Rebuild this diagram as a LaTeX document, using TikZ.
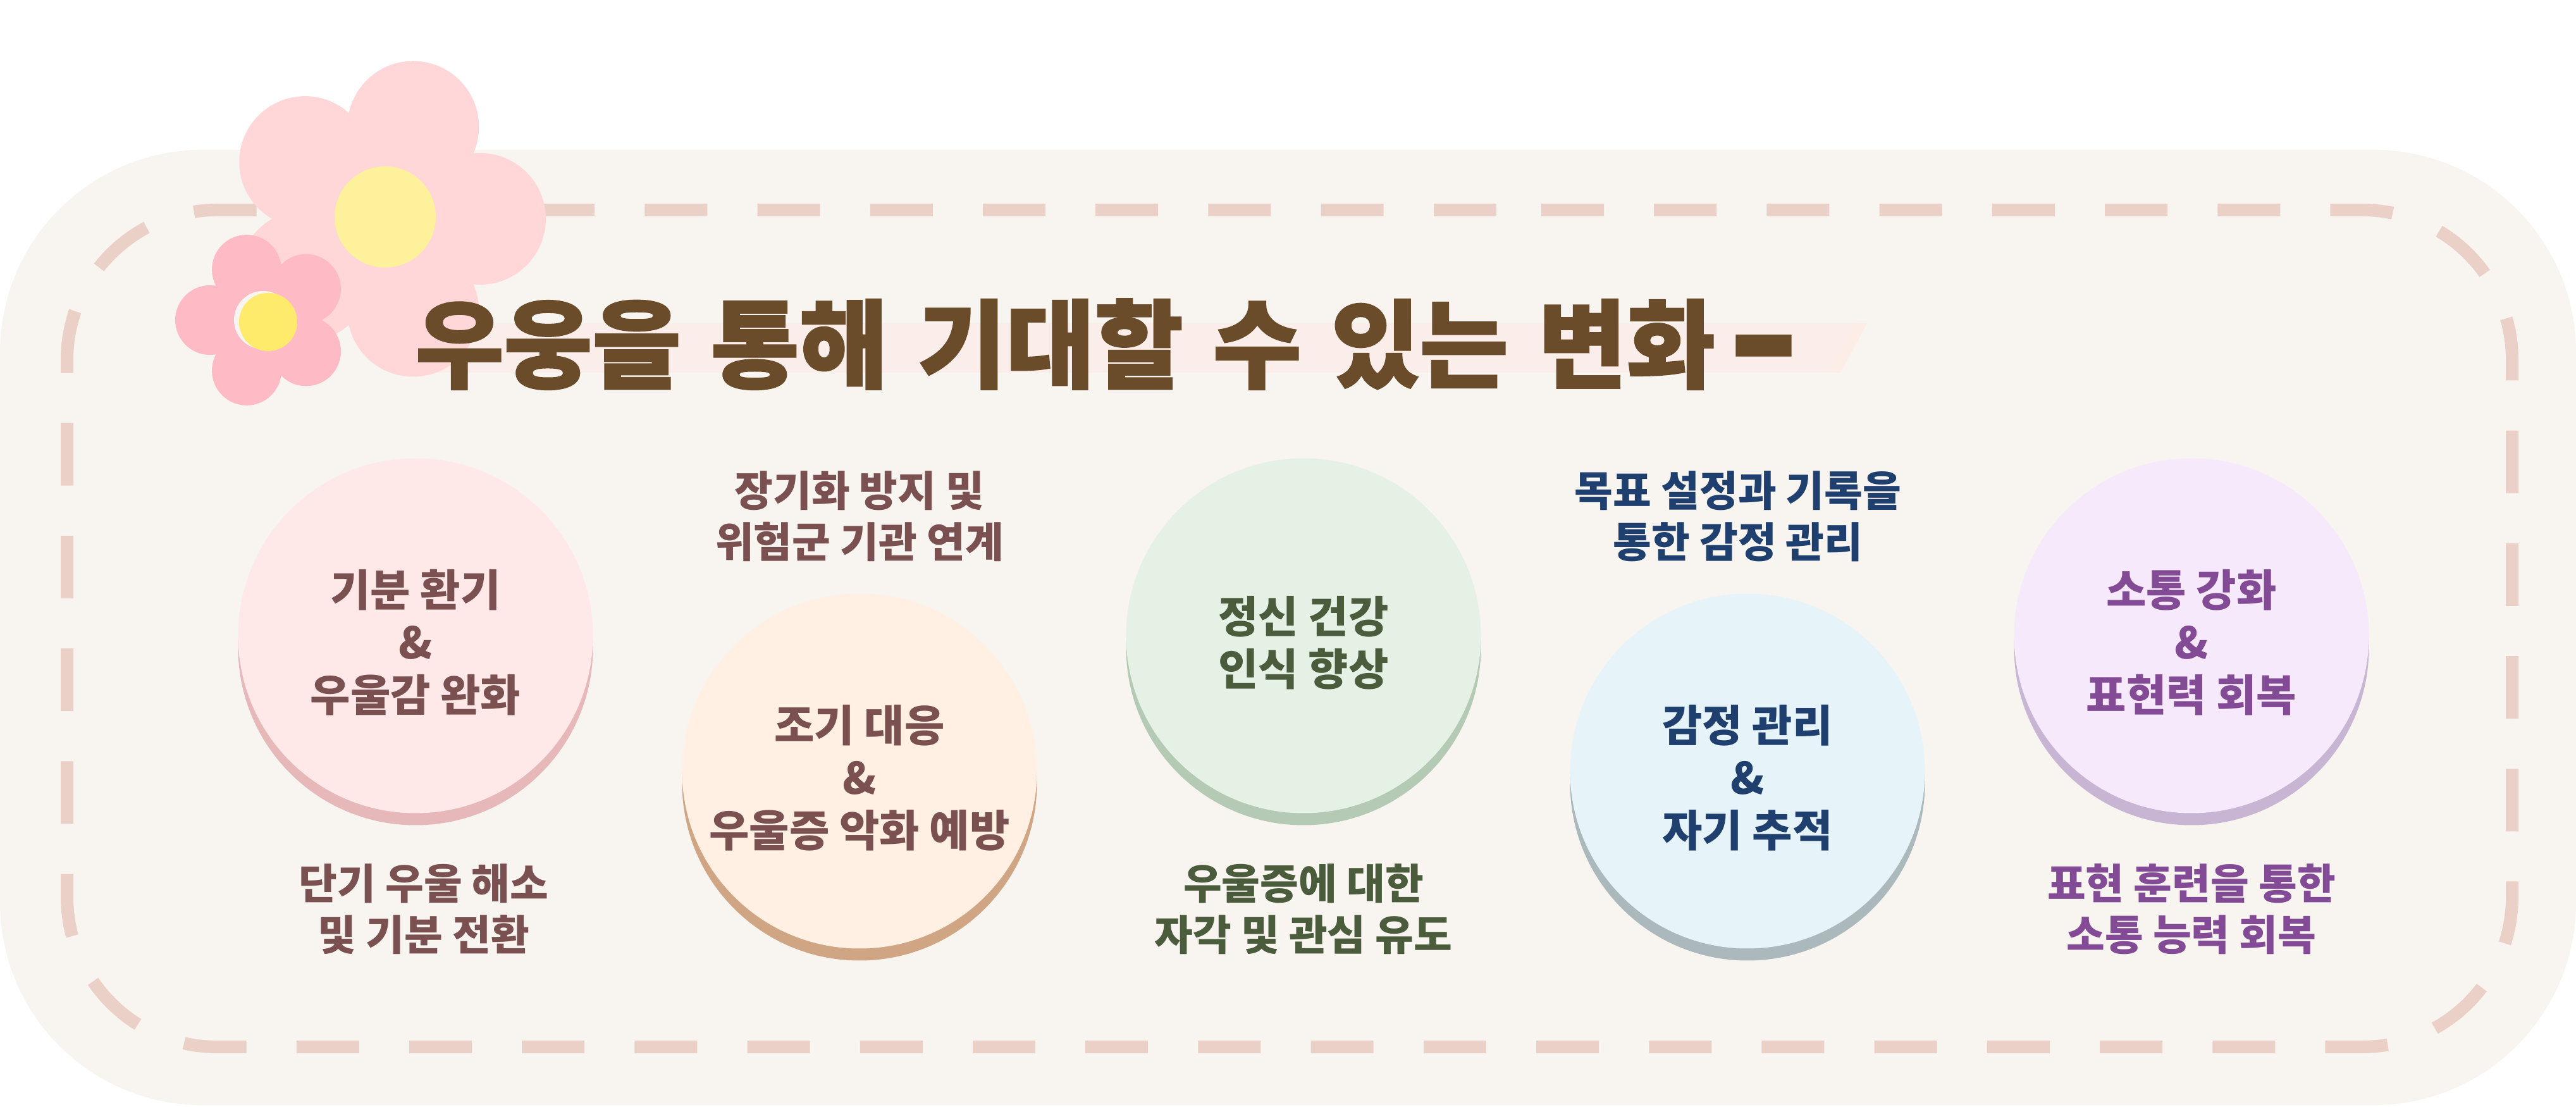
\documentclass[tikz,border=0pt]{standalone}
\usepackage{fontspec}
\setmainfont{Noto Sans CJK KR}
\newfontfamily\titlefont{Noto Sans CJK KR}[WordSpace=1.35,BoldFeatures={FakeBold=1.5}]
\definecolor{panelbg}{HTML}{F8F4F0}
\definecolor{dashcol}{HTML}{EBD0C8}
\definecolor{bandcol}{HTML}{FBEEEA}
\definecolor{bandend}{HTML}{FDEDE7}
\definecolor{titlecol}{HTML}{6B4C2A}
\definecolor{bigpetal}{HTML}{FFD7D9}
\definecolor{bigheart}{HTML}{FEF19B}
\definecolor{smallpetal}{HTML}{FFBBC5}
\definecolor{smallheart}{HTML}{FEEB6C}
\definecolor{redbg}{HTML}{FFE8E8}
\definecolor{redsh}{HTML}{E6B8BA}
\definecolor{redtx}{HTML}{7A5050}
\definecolor{orgbg}{HTML}{FFF0E3}
\definecolor{orgsh}{HTML}{D0A583}
\definecolor{grnbg}{HTML}{E6F1E6}
\definecolor{grnsh}{HTML}{B5CAB4}
\definecolor{grntx}{HTML}{4A5C3C}
\definecolor{blubg}{HTML}{E6F4F9}
\definecolor{blush}{HTML}{ABB9BC}
\definecolor{blutx}{HTML}{1F3F6F}
\definecolor{purbg}{HTML}{F5E9FB}
\definecolor{pursh}{HTML}{C8B4D3}
\definecolor{purtx}{HTML}{834A96}
\tikzset{
  bubble/.style={circle, minimum size=5.61cm, inner sep=0pt},
  bubbletext/.style={font=\bfseries\fontsize{19.6}{23.6}\selectfont, align=center},
  sidetext/.style={font=\bfseries\fontsize{18.8}{23}\selectfont, align=center},
  dashline/.style={draw=dashcol, line width=0.2cm, dash pattern=on 0.99cm off 0.792cm}
}

\begin{document}
\begin{tikzpicture}
\useasboundingbox (0,0) rectangle (40.73,17.49);
\fill[panelbg, rounded corners=3.2cm] (0,0.02) rectangle (40.73,15.12);
\draw[dashline] (24.37,14.17) -- (37.35,14.17) arc[start angle=90, end angle=0, radius=2.37]
  -- (39.72,3.31) arc[start angle=0, end angle=-90, radius=2.37]
  -- (3.43,0.94) arc[start angle=270, end angle=180, radius=2.37]
  -- (1.06,11.80) arc[start angle=180, end angle=90, radius=2.37] -- cycle;
%
\fill[bandend] (6.8,12.38) -- (29.52,12.38) -- (29.10,11.60) -- (6.8,11.60) -- cycle;
\fill[bandcol] (6.8,12.38) -- (29.34,12.38) -- (28.91,11.60) -- (6.8,11.60) -- cycle;
%
\foreach \a in {0,72,...,288} \fill[bigpetal] (6.06,14.03) ++(\a:1.53) circle (1.04);
\fill[bigpetal] (6.06,14.03) circle (1.2);
\fill[bigheart] (6.09,14.06) circle (0.80);
%
\foreach \a in {36,108,...,324} \fill[smallpetal] (4.16,12.43) ++(\a:0.84) circle (0.55);
\fill[smallpetal] (4.16,12.43) circle (0.7);
\fill[panelbg] (4.16,12.43) circle (0.46);
\fill[smallheart] (4.24,12.40) circle (0.46);
%
\node[anchor=west, inner sep=0pt, text=titlecol, font=\titlefont\bfseries\fontsize{43.3}{43.3}\selectfont] (title) at (6.56,12.00) {우웅을 통해 기대할 수 있는 변화 \hspace{-0.15em}\raisebox{-0.16em}{\scalebox{1.25}[1.8]{–}}};
%
\node[bubble, fill=redsh] (calmback) at (6.57,7.25) {};
\node[bubble, fill=redbg] (calm) at (6.57,7.44) {};
\node[bubbletext, text=redtx, yshift=-0.11cm] (calmtext) at (calm) {기분 환기\\\&\\우울감 완화};
\node[bubble, fill=orgsh] (earlyback) at (13.59,5.11) {};
\node[bubble, fill=orgbg] (early) at (13.59,5.30) {};
\node[bubbletext, text=redtx, yshift=-0.11cm] (earlytext) at (early) {조기 대응\\\&\\우울증 악화 예방};
\node[bubble, fill=grnsh] (mindback) at (20.61,7.25) {};
\node[bubble, fill=grnbg] (mind) at (20.61,7.44) {};
\node[bubbletext, text=grntx, yshift=-0.11cm] (mindtext) at (mind) {정신 건강\\인식 향상};
\node[bubble, fill=blush] (careback) at (27.63,5.11) {};
\node[bubble, fill=blubg] (care) at (27.63,5.30) {};
\node[bubbletext, text=blutx, yshift=-0.11cm] (caretext) at (care) {감정 관리\\\&\\자기 추적};
\node[bubble, fill=pursh] (talkback) at (34.65,7.25) {};
\node[bubble, fill=purbg] (talk) at (34.65,7.44) {};
\node[bubbletext, text=purtx, yshift=-0.11cm] (talktext) at (talk) {소통 강화\\\&\\표현력 회복};
%
\node[sidetext, text=redtx] (calmnote) at (6.70,3.12) {단기 우울 해소\\및 기분 전환};
\node[sidetext, text=redtx] (earlynote) at (13.59,9.33) {장기화 방지 및\\위험군 기관 연계};
\node[sidetext, text=grntx] (mindnote) at (20.61,3.12) {우울증에 대한\\자각 및 관심 유도};
\node[sidetext, text=blutx] (carenote) at (27.48,9.33) {목표 설정과 기록을\\통한 감정 관리};
\node[sidetext, text=purtx] (talknote) at (34.65,3.12) {표현 훈련을 통한\\소통 능력 회복};
\end{tikzpicture}
\end{document}
